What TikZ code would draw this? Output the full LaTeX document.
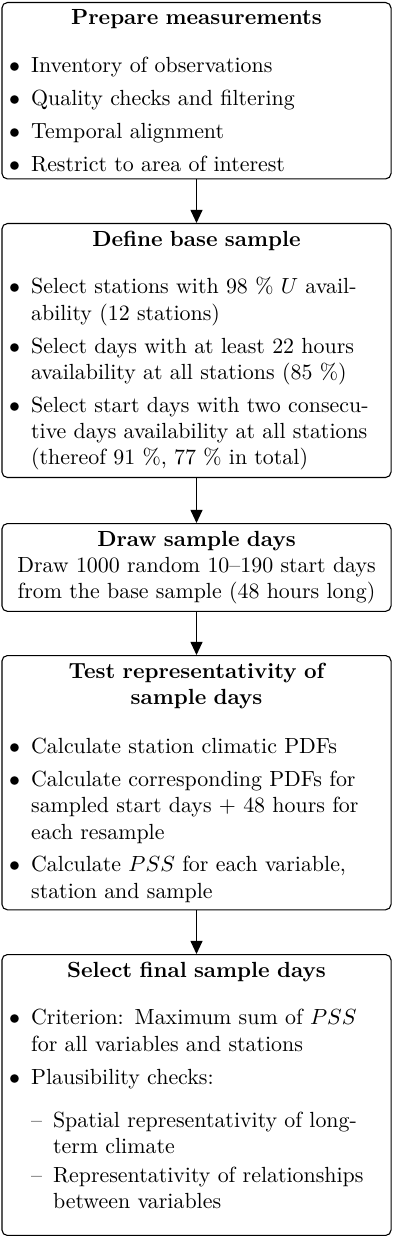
\documentclass[tikz,border=0pt]{standalone}
\usetikzlibrary{arrows.meta}
\newcommand\brk{\unskip\nobreak\hfil\penalty-10000\relax}
\newcommand\ttl[1]{{\centering\bfseries #1\par}}
\newcommand\bitem[2][3pt]{\vspace{#1}\noindent\hangindent=10pt\hangafter=1\makebox[10pt][l]{$\bullet$}#2\par}
\newcommand\ditem[2][1pt]{\vspace{#1}\noindent\hangindent=20pt\hangafter=1\hspace*{10pt}\makebox[10pt][l]{\textendash}#2\par}
\tikzset{
  stepbox/.style={draw, line width=0.5pt, rounded corners=2.5pt, text width=171pt,
    inner xsep=3.33pt, inner ysep=3.33pt, anchor=north},
  arr/.style={line width=0.5pt, -{Triangle[length=6pt,width=5.5pt]}}
}
\begin{document}
\begin{tikzpicture}[x=0.4566pt, y=-0.4566pt]
\useasboundingbox (0,0) rectangle (393,1236);
\node[stepbox] (n1) at (196.5,2) {%
  \ttl{Prepare measurements}%
  \bitem[9.8pt]{Inventory of observations}%
  \bitem{Quality checks and filtering}%
  \bitem{Temporal alignment}%
  \bitem{Restrict to area of interest}};
\node[stepbox] (n2) at (196.5,223) {%
  \ttl{Define base sample}%
  \bitem[9.8pt]{Select stations with 98~\% $U$ avail-\brk ability (12 stations)}%
  \bitem{Select days with at least 22 hours\brk availability at all stations (85~\%)}%
  \bitem{Select start days with two consecu-\brk tive days availability at all stations\brk (thereof 91~\%, 77~\% in total)}};
\node[stepbox] (n3) at (196.5,523) {%
  {\centering\textbf{Draw sample days}\\ Draw 1000 random 10--190 start days\\ from the base sample (48 hours long)\par}};
\node[stepbox] (n4) at (196.5,655) {%
  {\centering\bfseries Test representativity of\\ sample days\par}%
  \bitem[10.5pt]{Calculate station climatic PDFs}%
  \bitem{Calculate corresponding PDFs for\brk sampled start days $+$ 48 hours for\brk each resample}%
  \bitem{Calculate $PSS$ for each variable,\brk station and sample}};
\node[stepbox] (n5) at (196.5,954) {%
  \ttl{Select final sample days}%
  \bitem[9.8pt]{Criterion: Maximum sum of $PSS$\brk for all variables and stations}%
  \bitem{Plausibility checks:}%
  \ditem[7.8pt]{Spatial representativity of long-\brk term climate}%
  \ditem{Representativity of relationships\brk between variables}%
  \vspace{8.9pt}\hrule height 0pt width 0pt};
\draw[arr] (n1) -- (n2);
\draw[arr] (n2) -- (n3);
\draw[arr] (n3) -- (n4);
\draw[arr] (n4) -- (n5);
\end{tikzpicture}
\end{document}
